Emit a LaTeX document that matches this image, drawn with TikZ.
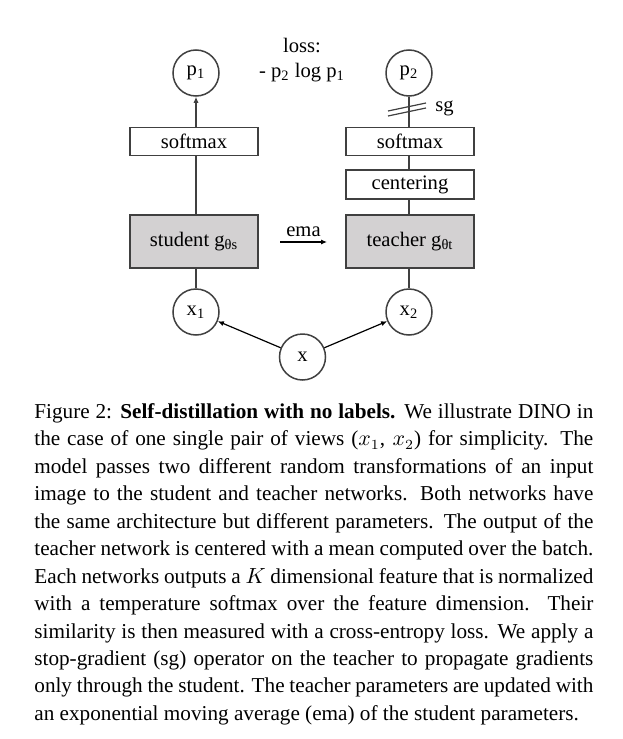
\documentclass[tikz,border=0pt]{standalone}
\usepackage{fontspec}
\setmainfont{Liberation Serif}
\usetikzlibrary{arrows.meta,calc}
\definecolor{linegray}{HTML}{404040}
\definecolor{boxgray}{HTML}{D3D1D2}
\newcommand{\dfont}{\fontsize{10.3}{12}\selectfont}
\begin{document}
\begin{tikzpicture}[x=0.5pt,y=-0.5pt,
  box/.style={draw=linegray, line width=0.75pt, minimum width=64pt, inner sep=0pt, font=\dfont},
  gbox/.style={box, fill=boxgray},
  circ/.style={circle, draw=linegray, line width=0.75pt, minimum size=23pt, inner sep=0pt, font=\dfont},
  con/.style={draw=linegray, line width=0.75pt},
  arr/.style={draw=black, line width=0.6pt, -{Latex[length=3pt,width=2.6pt]}},
  lbl/.style={font=\dfont, inner sep=0pt}]
\useasboundingbox (0,0) rectangle (622,739);
% left column
\node[circ] (p1) at (196,73) {p\textsubscript{1}};
\node[box, minimum height=14pt] (smS) at (194,141.5) {softmax};
\node[gbox, minimum height=26.5pt] (stu) at (194,241.5) {student g\textsubscript{θs}};
\node[circ] (x1) at (196,312) {x\textsubscript{1}};
% right column
\node[circ] (p2) at (409,73) {p\textsubscript{2}};
\node[box, minimum height=14pt] (smT) at (410,141.5) {softmax};
\node[box, minimum height=14.5pt] (cen) at (410,184.5) {centering};
\node[gbox, minimum height=26.5pt] (tea) at (410,241.5) {teacher g\textsubscript{θt}};
\node[circ] (x2) at (409,312) {x\textsubscript{2}};
% input
\node[circ] (x) at (302.5,357) {x};
% loss
\node[lbl] (loss1) at (302,45) {loss:};
\node[lbl] (loss2) at (302,73) {- p\textsubscript{2} log p\textsubscript{1}};
% connectors left
\draw[con, -{Latex[length=3pt,width=2.6pt]}] (smS.north -| p1) -- (p1.south);
\draw[con] (smS.south -| p1) -- (stu.north -| p1);
\draw[con] (stu.south -| x1) -- (x1.north);
% connectors right
\draw[con] (p2.south) -- (smT.north -| p2);
\draw[con] (smT.south -| p2) -- (cen.north -| p2);
\draw[con] (cen.south -| p2) -- (tea.north -| p2);
\draw[con] (tea.south -| x2) -- (x2.north);
% stop gradient
\draw[con, line width=0.6pt] (388,111) -- (426,103);
\draw[con, line width=0.6pt] (388,116) -- (426,108);
\node[lbl, anchor=west] (sg) at (435,108) {sg};
% ema
\coordinate (emaS) at (280,242);
\coordinate (emaE) at (327,242);
\draw[arr] (emaS) -- node[lbl, above=2.5pt] (ema) {ema} (emaE);
% inputs
\draw[arr] (x) -- (x1);
\draw[arr] (x) -- (x2);
% caption
\node[anchor=north west, inner sep=0pt, text width=279.5pt, align=justify] (cap) at (34,403)
{\fontsize{10.6}{13.73}\selectfont\noindent\hyphenpenalty=10000\exhyphenpenalty=10000
Figure 2: \textbf{Self-distillation with no labels.} We illustrate DINO in\linebreak
the case of one single pair of views ($x_1$, $x_2$) for simplicity. The\linebreak
model passes two different random transformations of an input\linebreak
image to the student and teacher networks. Both networks have\linebreak
the same architecture but different parameters. The output of the\linebreak
teacher network is centered with a mean computed over the batch.\linebreak
Each networks outputs a $K$ dimensional feature that is normalized\linebreak
with a temperature softmax over the feature dimension. Their\linebreak
similarity is then measured with a cross-entropy loss. We apply a\linebreak
stop-gradient (sg) operator on the teacher to propagate gradients\linebreak
only through the student. The teacher parameters are updated with\linebreak
an exponential moving average (ema) of the student parameters.\par};
\end{tikzpicture}
\end{document}
